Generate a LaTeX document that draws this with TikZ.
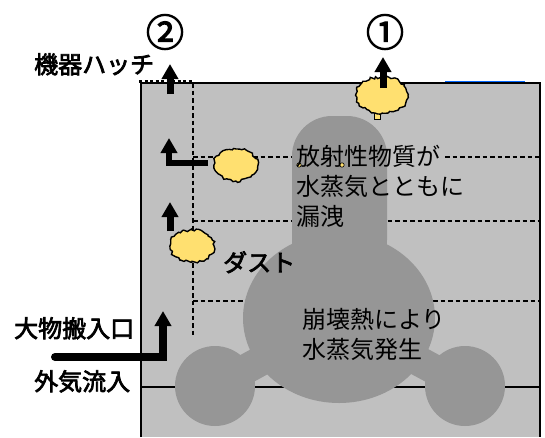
\documentclass[tikz,border=0pt]{standalone}
\usepackage{fontspec}
\setmainfont{Noto Sans CJK JP}
\newfontfamily\heavy{Noto Sans CJK JP}[FakeBold=3]
\usetikzlibrary{arrows.meta,decorations.pathmorphing}

\definecolor{hall}{RGB}{192,192,192}
\definecolor{core}{RGB}{150,150,150}
\definecolor{dust}{RGB}{255,224,112}

\begin{document}
\pgfmathsetseed{7}
\begin{tikzpicture}[x=1pt,y=-1pt,
    txt/.style={font=\fontsize{24}{30}\selectfont, inner sep=0, anchor=north west, align=left},
    bold/.style={txt, font=\heavy\fontsize{24}{30}\selectfont},
    num/.style={font=\heavy\fontsize{38}{38}\selectfont, inner sep=0},
    route/.style={dash pattern=on 4.5pt off 3pt, line width=2.6pt},
    flow/.style={line width=7pt, -{Triangle[width=16pt,length=15pt]}},
    puff/.style={draw, fill=dust, line width=1.4pt,
      decorate, decoration={random steps, segment length=2.6pt, amplitude=1.4pt}}]
  \useasboundingbox (0,0) rectangle (545,437);
  % building and floor
  \fill[hall] (141,83) rectangle (540,437);
  \draw[line width=1.2pt] (141,387) -- (540,387);
  % leak routes
  \draw[route] (193,83) -- (193,337);
  \draw[route] (193,157) -- (292,157) (445,157) -- (540,157);
  \draw[route, line width=1.6pt] (193,221) -- (300,221);
  \draw[route] (380,221) -- (540,221);
  \draw[route] (193,301) -- (540,301);
  \draw[line width=3pt, dash pattern=on 3pt off 2.5pt] (139,81) -- (193,81);
  \draw[blue!60!cyan, line width=0.8pt] (445,81) -- (525,81);
  % reactor
  \fill[core, rounded corners=40pt] (292,280) rectangle (387,116);
  \fill[core] (339,318) ellipse[x radius=96, y radius=85];
  \fill[core] (215,386) circle[radius=40] (465,386) circle[radius=40];
  \draw[core, line width=30pt] (215,386) -- (339,318) -- (465,386);
  % walls
  \draw[line width=1.2pt] (141,437) -- (141,83) -- (540,83) -- (540,437);
  % dust
  \coordinate (dust1) at (382,95);
  \coordinate (dust2) at (236,165);
  \coordinate (dust3) at (192,246);
  \filldraw[fill=dust, line width=0.8pt] (374,113) rectangle (380,119);
  \draw[puff] (dust1) ellipse[x radius=26, y radius=18];
  \draw[puff] (dust2) ellipse[x radius=22, y radius=16];
  \draw[puff] (dust3) ellipse[x radius=22, y radius=16];
  \filldraw[fill=dust, line width=0.6pt] (299,165) circle[radius=2.2] (342,165) circle[radius=2.2];
  % flows
  \draw[flow] (383,88) -- (383,57);
  \draw[flow] (170,94) -- (170,64);
  \draw[flow, line width=6.5pt] (208,163) -| (169,138);
  \draw[flow] (170,231) -- (170,202);
  \draw[flow, line width=8pt] (55,357) -- (163,357) -- (163,311);
  \fill (55,357) circle[radius=4];
  % labels
  \node[num] (num1) at (385,32) {①};
  \node[num] (num2) at (165,32) {②};
  \node[bold] (lblhatch) at (34,53) {機器ハッチ};
  \node[bold] (lblinlet) at (14,317) {大物搬入口};
  \node[bold] (lblair) at (34,370) {外気流入};
  \node[bold] (lbldust) at (223,251) {ダスト};
  \node[txt] (lblleak) at (296,145) {放射性物質が\\水蒸気とともに\\漏洩};
  \node[txt] (lblheat) at (302,308) {崩壊熱により\\水蒸気発生};
\end{tikzpicture}
\end{document}
